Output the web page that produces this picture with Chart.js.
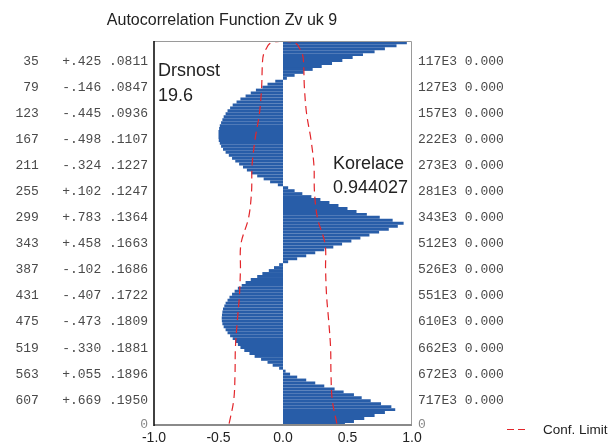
<!DOCTYPE html>
<html>
<head>
<meta charset="utf-8">
<title>Autocorrelation Function Zv uk 9</title>
<script src="https://cdn.jsdelivr.net/npm/chart.js@4.4.1/dist/chart.umd.min.js"></script>
<style>
  html, body { margin: 0; padding: 0; background: #fff; }
  #wrap { position: relative; width: 612px; height: 448px; }
</style>
</head>
<body>
<div id="wrap"><canvas id="acf" width="612" height="448"></canvas></div>
<script>
// ── Data ──────────────────────────────────────────────────────────────────────
const LAG_MAX = 649;

const lags = [
  3, 8, 13, 18, 23, 28, 33, 38, 43, 48,
  53, 58, 63, 68, 73, 78, 83, 88, 93, 98,
  103, 108, 113, 118, 123, 128, 133, 138, 143, 148,
  153, 158, 163, 168, 173, 178, 183, 188, 193, 198,
  203, 208, 213, 218, 223, 228, 233, 238, 243, 248,
  253, 258, 263, 268, 273, 278, 283, 288, 293, 298,
  303, 308, 313, 318, 323, 328, 333, 338, 343, 348,
  353, 358, 363, 368, 373, 378, 383, 388, 393, 398,
  403, 408, 413, 418, 423, 428, 433, 438, 443, 448,
  453, 458, 463, 468, 473, 478, 483, 488, 493, 498,
  503, 508, 513, 518, 523, 528, 533, 538, 543, 548,
  553, 558, 563, 568, 573, 578, 583, 588, 593, 598,
  603, 608, 613, 618, 623, 628, 633, 638, 643, 648
];

const acf = [
  0.96, 0.88, 0.79, 0.71, 0.62, 0.54, 0.46, 0.38, 0.30, 0.23,
  0.16, 0.09, 0.03, -0.06, -0.12, -0.16, -0.21, -0.25, -0.29, -0.33,
  -0.36, -0.39, -0.41, -0.43, -0.445, -0.46, -0.47, -0.48, -0.49, -0.495,
  -0.50, -0.50, -0.50, -0.498, -0.49, -0.48, -0.465, -0.445, -0.42, -0.395,
  -0.37, -0.34, -0.31, -0.28, -0.245, -0.20, -0.15, -0.10, -0.04, 0.04,
  0.09, 0.15, 0.22, 0.29, 0.36, 0.43, 0.50, 0.57, 0.65, 0.75,
  0.85, 0.935, 0.89, 0.82, 0.745, 0.67, 0.60, 0.53, 0.458, 0.39,
  0.32, 0.25, 0.18, 0.11, 0.04, -0.03, -0.07, -0.11, -0.16, -0.20,
  -0.25, -0.29, -0.32, -0.35, -0.375, -0.395, -0.415, -0.43, -0.445, -0.455,
  -0.465, -0.47, -0.473, -0.475, -0.474, -0.47, -0.46, -0.445, -0.43, -0.41,
  -0.39, -0.37, -0.35, -0.33, -0.30, -0.26, -0.22, -0.17, -0.12, -0.08,
  -0.03, 0.02, 0.055, 0.11, 0.18, 0.25, 0.32, 0.40, 0.47, 0.55,
  0.61, 0.68, 0.76, 0.84, 0.87, 0.79, 0.71, 0.63, 0.55, 0.48
];

// table rows printed beside the plot
const rowLags = [35, 79, 123, 167, 211, 255, 299, 343, 387, 431, 475, 519, 563, 607];
const rowAcf  = ["+.425", "-.146", "-.445", "-.498", "-.324", "+.102", "+.783",
                 "+.458", "-.102", "-.407", "-.473", "-.330", "+.055", "+.669"];
const rowSE   = [".0811", ".0847", ".0936", ".1107", ".1227", ".1247", ".1364",
                 ".1663", ".1686", ".1722", ".1809", ".1881", ".1896", ".1950"];
const rowQ    = ["117E3", "127E3", "157E3", "222E3", "273E3", "281E3", "343E3",
                 "512E3", "526E3", "551E3", "610E3", "662E3", "672E3", "717E3"];
const rowP    = ["0.000", "0.000", "0.000", "0.000", "0.000", "0.000", "0.000",
                 "0.000", "0.000", "0.000", "0.000", "0.000", "0.000", "0.000"];

// confidence limit (upper; lower is its mirror)
const confLags  = [0, 2, 6, 11, 22, 35, 79, 123, 167, 211, 255, 299, 343, 387, 431, 475, 519, 563, 607, 649];
const confLimit = [0, 0.08, 0.11, 0.125, 0.15, 0.159, 0.166, 0.183, 0.217, 0.240, 0.244, 0.267,
                   0.326, 0.330, 0.338, 0.355, 0.369, 0.372, 0.382, 0.42];

const xTicks = [-1, -0.5, 0, 0.5, 1];

// ── Styles ────────────────────────────────────────────────────────────────────
const BAR_BLUE = "#285da8";
const CONF_RED = "#e3262b";
const MONO = "'Liberation Mono', 'Courier New', monospace";
const SANS = "'Liberation Sans', Arial, sans-serif";

Chart.defaults.font.family = SANS;

// ── Text + frame overlay ──────────────────────────────────────────────────────
const overlay = {
  id: "overlay",
  afterDraw(chart) {
    const c = chart.ctx;
    const a = chart.chartArea;
    c.save();

    // frame
    c.lineWidth = 1;
    c.strokeStyle = "#9a9a9a";
    c.beginPath();
    c.moveTo(a.left, a.top + 0.5);
    c.lineTo(a.right - 0.5, a.top + 0.5);
    c.lineTo(a.right - 0.5, a.bottom);
    c.stroke();
    c.lineWidth = 2;
    c.strokeStyle = "#8a8a8a";
    c.beginPath();
    c.moveTo(a.left, a.bottom);
    c.lineTo(a.right, a.bottom);
    c.stroke();
    c.lineWidth = 1.6;
    c.strokeStyle = "#111";
    c.beginPath();
    c.moveTo(a.left, a.top);
    c.lineTo(a.left, a.bottom + 1);
    c.stroke();

    // title
    c.fillStyle = "#222";
    c.textBaseline = "alphabetic";
    c.textAlign = "center";
    c.font = "16px " + SANS;
    c.fillText("Autocorrelation Function Zv uk 9", 222, 25);

    // annotations
    c.textAlign = "left";
    c.font = "18px " + SANS;
    c.fillText("Drsnost", 158, 76);
    c.fillText("19.6", 158, 101);
    c.fillText("Korelace", 333, 169);
    c.fillText("0.944027", 333, 193);

    // legend
    c.strokeStyle = CONF_RED;
    c.lineWidth = 1.2;
    c.setLineDash([7, 4]);
    c.beginPath();
    c.moveTo(507, 429.5);
    c.lineTo(526, 429.5);
    c.stroke();
    c.setLineDash([]);
    c.font = "13.5px " + SANS;
    c.fillText("Conf. Limit", 543, 434);
    c.restore();
  }
};

// ── Chart ─────────────────────────────────────────────────────────────────────
const lineStyle = {
  type: "line",
  borderColor: CONF_RED,
  borderWidth: 1.2,
  borderDash: [8, 5],
  pointRadius: 0,
  tension: 0.35,
  fill: false,
  yAxisID: "y"
};

const lagAxis = (side, width, label) => ({
  type: "linear",
  position: side,
  min: 0, max: LAG_MAX,
  reverse: true,
  offset: false,
  grid: { display: false, drawTicks: false, offset: false },
  border: { display: false },
  afterBuildTicks: s => { s.ticks = rowLags.concat([LAG_MAX]).map(v => ({ value: v })); },
  afterFit: s => { s.width = width; },
  ticks: {
    autoSkip: false,
    padding: 6,
    font: { size: 13, family: MONO },
    color: c => (c.tick && c.tick.value === LAG_MAX) ? "#888" : "#4a4a4a",
    callback: v => {
      const i = rowLags.indexOf(v);
      return i < 0 ? "0" : label(i);
    }
  }
});

new Chart(document.getElementById("acf"), {
  type: "bar",
  data: {
    datasets: [
      Object.assign({ label: "Conf. Limit", data: confLags.map((l, i) => ({ x: confLimit[i], y: l })) }, lineStyle),
      Object.assign({ label: "Conf. Limit low", data: confLags.map((l, i) => ({ x: -confLimit[i], y: l })) }, lineStyle),
      {
        type: "bar",
        label: "ACF",
        data: lags.map((l, i) => ({ x: acf[i], y: l })),
        backgroundColor: BAR_BLUE,
        borderWidth: 0,
        barPercentage: 1,
        categoryPercentage: 1,
        inflateAmount: 0,
        yAxisID: "y"
      }
    ]
  },
  options: {
    indexAxis: "y",
    responsive: false,
    animation: false,
    layout: { padding: { top: 41, left: 0, right: 0, bottom: 0 } },
    plugins: { legend: { display: false }, tooltip: { enabled: false }, title: { display: false } },
    scales: {
      x: {
        type: "linear",
        min: -1, max: 1,
        grid: { display: false, drawTicks: false },
        border: { display: false },
        afterBuildTicks: s => { s.ticks = xTicks.map(v => ({ value: v })); },
        afterFit: s => { s.height = 23; },
        ticks: {
          padding: 5,
          color: "#222",
          font: { size: 14, family: SANS },
          callback: v => Number(v).toFixed(1)
        }
      },
      y: lagAxis("left", 154, i => String(rowLags[i]).padStart(3, " ") + "   " + rowAcf[i] + " " + rowSE[i]),
      y2: lagAxis("right", 200, i => rowQ[i] + " " + rowP[i])
    }
  },
  plugins: [overlay]
});
</script>
</body>
</html>
